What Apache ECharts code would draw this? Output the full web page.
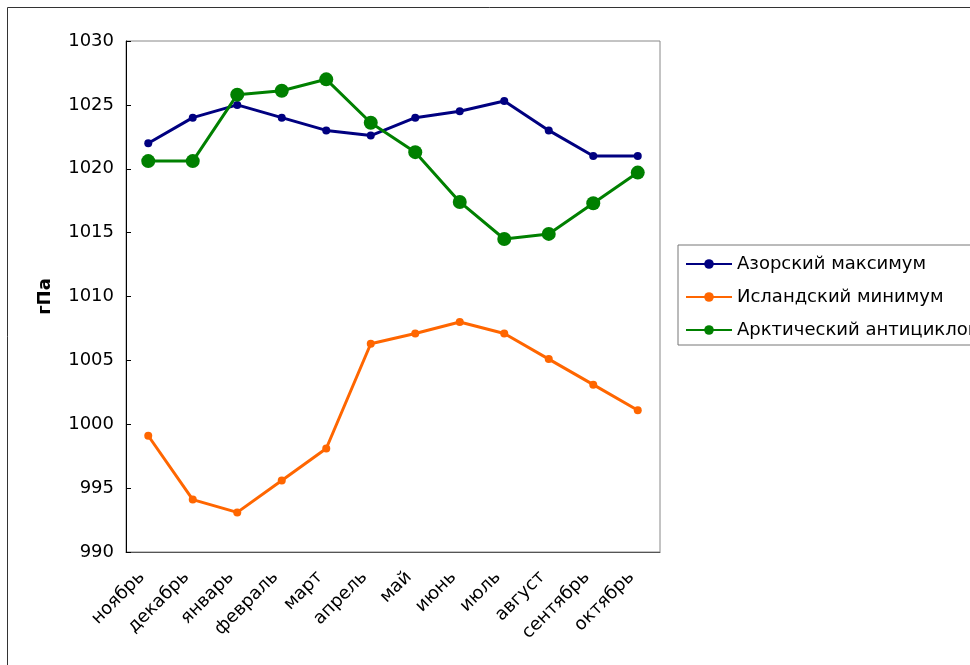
<!DOCTYPE html>
<html>
<head>
<meta charset="utf-8">
<script src="https://cdn.jsdelivr.net/npm/echarts@6/dist/echarts.min.js"></script>
<style>
  html, body { margin: 0; padding: 0; background: #fff; }
  #chart { width: 970px; height: 665px; }
</style>
</head>
<body>
<div id="chart"></div>
<script>
// Months (November to October)
const months = ['ноябрь', 'декабрь', 'январь', 'февраль', 'март', 'апрель',
                'май', 'июнь', 'июль', 'август', 'сентябрь', 'октябрь'];

// Mean pressure of the pressure centres, hPa
const azoresHigh = [1022, 1024, 1025, 1024, 1023, 1022.6, 1024, 1024.5, 1025.3, 1023, 1021, 1021];
const icelandLow = [999.1, 994.1, 993.1, 995.6, 998.1, 1006.3, 1007.1, 1008, 1007.1, 1005.1, 1003.1, 1001.1];
const arcticHigh = [1020.6, 1020.6, 1025.8, 1026.1, 1027, 1023.6, 1021.3, 1017.4, 1014.5, 1014.9, 1017.3, 1019.7];

const seriesNames = ['Азорский максимум', 'Исландский минимум', 'Арктический антициклон'];

const FONT = 'DejaVu Sans';

const chart = echarts.init(document.getElementById('chart'), null, { renderer: 'canvas' });

function lineSeries(name, data, color, symbolSize) {
  return {
    name: name,
    type: 'line',
    data: data,
    symbol: 'circle',
    symbolSize: symbolSize,
    lineStyle: { color: color, width: 3 },
    itemStyle: { color: color },
    emphasis: { disabled: true },
    animation: false
  };
}

chart.setOption({
  animation: false,
  backgroundColor: '#fff',
  textStyle: { fontFamily: FONT },
  graphic: [{
    type: 'rect',
    shape: { x: 7.5, y: 7.5, width: 1000, height: 700 },
    style: { fill: 'none', stroke: '#333', lineWidth: 1 },
    silent: true,
    z: -10
  }],
  grid: {
    left: 126, top: 41, width: 534, height: 511,
    show: true, borderColor: '#888', borderWidth: 1
  },
  legend: {
    orient: 'vertical',
    left: 678, top: 245,
    data: seriesNames,
    itemWidth: 46, itemHeight: 12,
    itemGap: 15,
    padding: [10, 8, 6, 7],
    borderColor: '#777', borderWidth: 1,
    textStyle: { fontFamily: FONT, fontSize: 18, color: '#000' }
  },
  xAxis: {
    type: 'category',
    data: months,
    boundaryGap: true,
    axisLine: { lineStyle: { color: '#555', width: 1 } },
    axisTick: { inside: true, length: 5, lineStyle: { color: '#555' } },
    axisLabel: {
      rotate: 45, interval: 0, fontFamily: FONT, fontSize: 18, color: '#000',
      margin: 16, padding: [0, 9, 0, 0]
    }
  },
  yAxis: {
    type: 'value',
    min: 990, max: 1030, interval: 5,
    name: 'гПа',
    nameLocation: 'middle',
    nameRotate: 90,
    nameGap: 72,
    nameTextStyle: { fontFamily: FONT, fontSize: 18, fontWeight: 'bold', color: '#000' },
    axisLine: { show: true, lineStyle: { color: '#000', width: 1 } },
    axisTick: { show: true, inside: true, length: 5, lineStyle: { color: '#000' } },
    splitLine: { show: false },
    axisLabel: {
      fontFamily: FONT, fontSize: 18, color: '#000', margin: 12,
      formatter: function (v) { return String(v); }
    }
  },
  series: [
    lineSeries(seriesNames[0], azoresHigh, '#000080', 8),
    lineSeries(seriesNames[1], icelandLow, '#FF6600', 8),
    lineSeries(seriesNames[2], arcticHigh, '#008000', 14)
  ]
});
</script>
</body>
</html>
